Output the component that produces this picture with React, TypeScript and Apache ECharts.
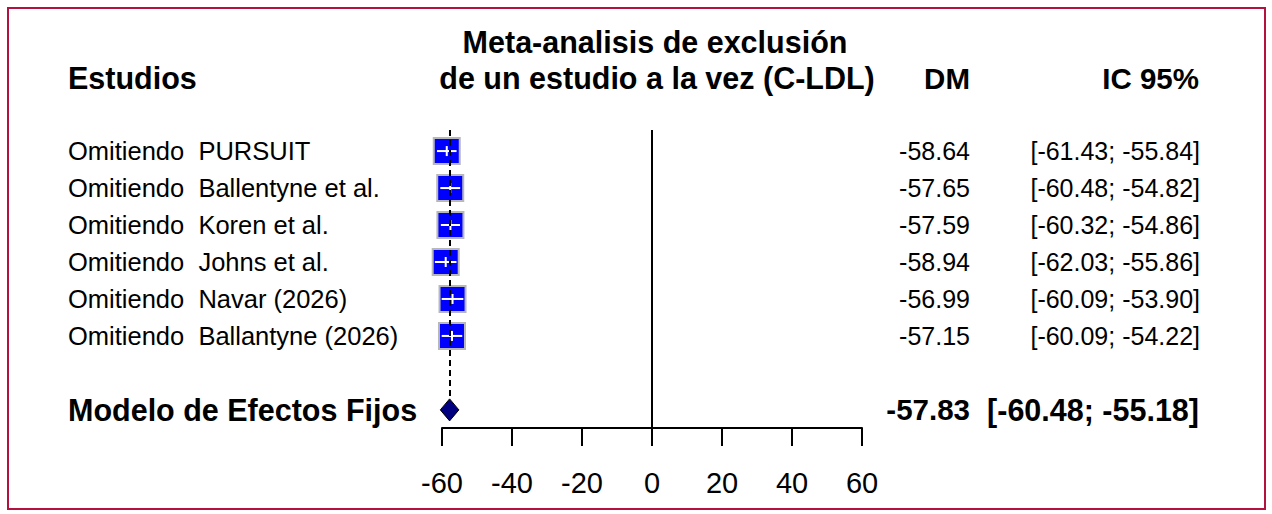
import React, { useRef, useEffect } from 'react';
import * as echarts from 'echarts';

const studies = ['PURSUIT', 'Ballentyne et al.', 'Koren et al.', 'Johns et al.', 'Navar (2026)', 'Ballantyne (2026)'];
const md = [-58.64, -57.65, -57.59, -58.94, -56.99, -57.15];
const lower = [-61.43, -60.48, -60.32, -62.03, -60.09, -60.09];
const upper = [-55.84, -54.82, -54.86, -55.86, -53.9, -54.22];
const pooledLabel = 'Modelo de Efectos Fijos';
const pooled = [-57.83, -60.48, -55.18]; // md, lower, upper
const xTicks = [-60, -40, -20, 0, 20, 40, 60];

const FONT = 'Liberation Sans, Arial, sans-serif';
const fmt = (v: number) => v.toFixed(2);
const ci = (lo: number, hi: number) => `[${fmt(lo)}; ${fmt(hi)}]`;

const App: React.FC = () => {
  const chartRef = useRef<HTMLDivElement>(null);

  useEffect(() => {
    if (!chartRef.current) return;
    const chart = echarts.init(chartRef.current, undefined, { renderer: 'svg' });
    const rowIdx = studies.map((_, i) => i);
    const pooledRow = studies.length + 1;

    const option = {
      animation: false,
      grid: { left: 442, width: 420, top: 130, height: 298 },
      xAxis: {
        type: 'value',
        min: xTicks[0],
        max: xTicks[xTicks.length - 1],
        interval: 20,
        splitLine: { show: false },
        axisLine: { show: true, onZero: false, lineStyle: { color: '#000', width: 2 } },
        axisTick: { show: true, length: 18, lineStyle: { color: '#000', width: 2 } },
        axisLabel: { fontSize: 29, color: '#000', fontFamily: FONT, margin: 40 },
      },
      yAxis: {
        type: 'value',
        inverse: true,
        min: -0.57,
        max: 7.49,
        show: false,
      },
      graphic: [
        { type: 'rect', shape: { x: 8, y: 8, width: 1257, height: 501 }, style: { fill: 'none', stroke: '#b3123f', lineWidth: 2 } },
        { type: 'text', x: 68, y: 78, style: { text: 'Estudios', font: `bold 30.5px ${FONT}`, fill: '#000', textVerticalAlign: 'middle' } },
        { type: 'text', x: 655, y: 42, style: { text: 'Meta-analisis de exclusión', font: `bold 30.5px ${FONT}`, fill: '#000', textAlign: 'center', textVerticalAlign: 'middle' } },
        { type: 'text', x: 657, y: 78, style: { text: 'de un estudio a la vez (C-LDL)', font: `bold 30.5px ${FONT}`, fill: '#000', textAlign: 'center', textVerticalAlign: 'middle' } },
        { type: 'text', x: 970, y: 78, style: { text: 'DM', font: `bold 29.5px ${FONT}`, fill: '#000', textAlign: 'right', textVerticalAlign: 'middle' } },
        { type: 'text', x: 1199, y: 78, style: { text: 'IC 95%', font: `bold 29.5px ${FONT}`, fill: '#000', textAlign: 'right', textVerticalAlign: 'middle' } },
      ],
      series: [
        {
          type: 'custom',
          name: 'estudios',
          data: rowIdx.map((i) => [md[i], i, lower[i], upper[i]]),
          renderItem: (_params: any, api: any) => {
            const i = api.value(1);
            const c = api.coord([api.value(0), i]);
            const lo = api.coord([api.value(2), i]);
            const hi = api.coord([api.value(3), i]);
            const s = 26;
            return {
              type: 'group',
              children: [
                { type: 'rect', shape: { x: c[0] - s / 2, y: c[1] - s / 2, width: s, height: s }, style: { fill: '#0000ff', stroke: '#b8b8b8', lineWidth: 2 } },
                { type: 'line', shape: { x1: lo[0], y1: c[1], x2: hi[0], y2: c[1] }, style: { stroke: '#fff', lineWidth: 2 } },
                { type: 'line', shape: { x1: c[0], y1: c[1] - 5, x2: c[0], y2: c[1] + 5 }, style: { stroke: '#fff', lineWidth: 2 } },
                { type: 'text', x: 68, y: c[1], style: { text: `Omitiendo  ${studies[i]}`, font: `25.5px ${FONT}`, fill: '#000', textVerticalAlign: 'middle' } },
                { type: 'text', x: 970, y: c[1], style: { text: fmt(md[i]), font: `25px ${FONT}`, fill: '#000', textAlign: 'right', textVerticalAlign: 'middle' } },
                { type: 'text', x: 1200, y: c[1], style: { text: ci(lower[i], upper[i]), font: `25px ${FONT}`, fill: '#000', textAlign: 'right', textVerticalAlign: 'middle' } },
              ],
            };
          },
          markLine: {
            silent: true,
            symbol: ['none', 'none'],
            label: { show: false },
            data: [
              { xAxis: 0, lineStyle: { color: '#000', width: 2, type: 'solid' } },
              [
                { coord: [pooled[0], -0.57], lineStyle: { color: '#000', width: 2, type: [6, 4] } },
                { coord: [pooled[0], pooledRow - 0.32] },
              ],
            ],
          },
          z: 3,
        },
        {
          type: 'custom',
          name: 'pooled',
          data: [[pooled[0], pooledRow, pooled[1], pooled[2]]],
          renderItem: (_params: any, api: any) => {
            const y = api.value(1);
            const c = api.coord([api.value(0), y]);
            const lo = api.coord([api.value(2), y]);
            const hi = api.coord([api.value(3), y]);
            const h = 11;
            return {
              type: 'group',
              children: [
                { type: 'polygon', shape: { points: [[lo[0], c[1]], [c[0], c[1] - h], [hi[0], c[1]], [c[0], c[1] + h]] }, style: { fill: '#000080', stroke: '#000', lineWidth: 1 } },
                { type: 'text', x: 68, y: c[1], style: { text: pooledLabel, font: `bold 30.5px ${FONT}`, fill: '#000', textVerticalAlign: 'middle' } },
                { type: 'text', x: 970, y: c[1], style: { text: fmt(pooled[0]), font: `bold 29.5px ${FONT}`, fill: '#000', textAlign: 'right', textVerticalAlign: 'middle' } },
                { type: 'text', x: 1199, y: c[1], style: { text: ci(pooled[1], pooled[2]), font: `bold 30.5px ${FONT}`, fill: '#000', textAlign: 'right', textVerticalAlign: 'middle' } },
              ],
            };
          },
          z: 4,
        },
      ],
    };
    chart.setOption(option as any);
    return () => chart.dispose();
  }, []);

  return (
    <div
      ref={chartRef}
      style={{ position: 'fixed', left: 0, top: 0, width: 1272, height: 514, background: '#fff' }}
    />
  );
};

export default App;
